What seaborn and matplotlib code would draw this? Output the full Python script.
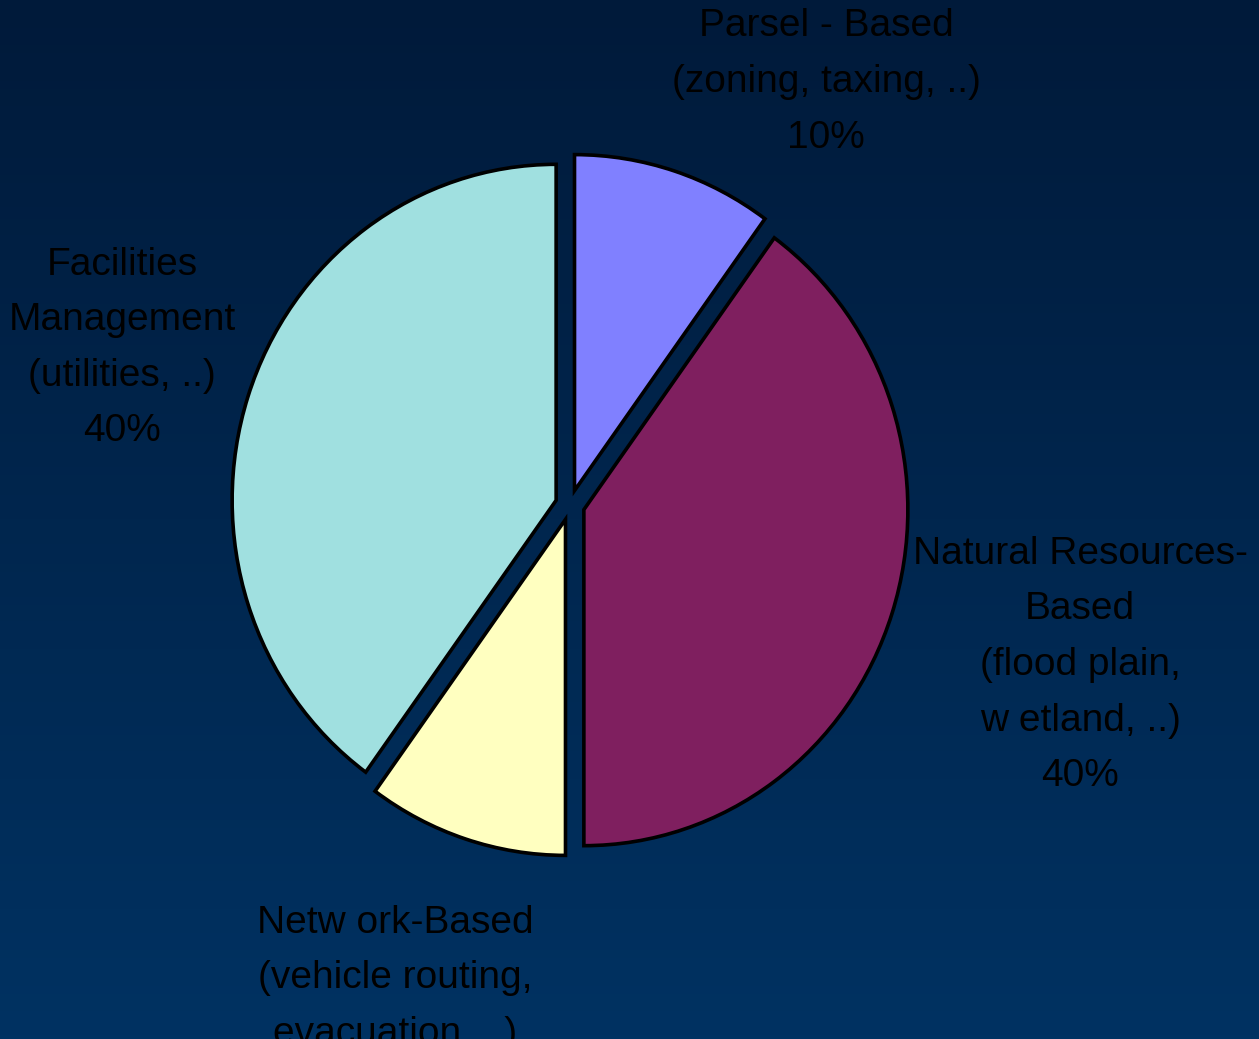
# GIS application areas - exploded pie chart
import numpy as np
import matplotlib
matplotlib.use('Agg')
import matplotlib.pyplot as plt
import seaborn as sns

# data
labels = ['Parsel - Based\n(zoning, taxing, ..)\n10%',
          'Natural Resources-\nBased\n(flood plain,\nw etland, ..)\n40%',
          'Netw ork-Based\n(vehicle routing,\nevacuation, ..)\n10%',
          'Facilities\nManagement\n(utilities, ..)\n40%']
shares = [10, 40, 10, 40]
colors = ['#8080FF', '#7F1F5F', '#FFFFC0', '#A0E0E0']

# label anchor points (pixels in the 1259x1039 picture)
label_px = [(826, 82), (1080, 665), (395, 1006), (122, 348)]

sns.set_style('white')
plt.rcParams['font.family'] = ['Liberation Sans', 'DejaVu Sans']

W, H = 1259, 1039
cx, cy = 570, 505        # pie centre in pixels
rx, ry = 324, 336        # horizontal / vertical radius in pixels

fig = plt.figure(figsize=(W / 100, H / 100), dpi=100)
ax = fig.add_axes([0, 0, 1, 1])

xlim = (-cx / rx, (W - cx) / rx)
ylim = (-(H - cy) / ry, cy / ry)

# background gradient, dark navy at top to blue at bottom
top = np.array([0, 26, 58]) / 255
bot = np.array([0, 50, 98]) / 255
t = np.linspace(0, 1, 256)[:, None]
grad = top + (bot - top) * t
ax.imshow(grad[:, None, :], extent=(xlim[0], xlim[1], ylim[0], ylim[1]),
          aspect='auto', zorder=0, origin='upper')

ax.pie(shares, colors=colors, startangle=90, counterclock=False,
       explode=[0.045] * 4, radius=1,
       wedgeprops=dict(edgecolor='black', linewidth=2.6, zorder=2))

for text, (px, py) in zip(labels, label_px):
    ax.text((px - cx) / rx, (cy - py) / ry, text, ha='center', va='center',
            fontsize=28, color='black', linespacing=1.7, zorder=3)

ax.set_aspect('auto')
ax.set_xlim(*xlim)
ax.set_ylim(*ylim)
ax.axis('off')

fig.savefig('out.png', dpi=100)
